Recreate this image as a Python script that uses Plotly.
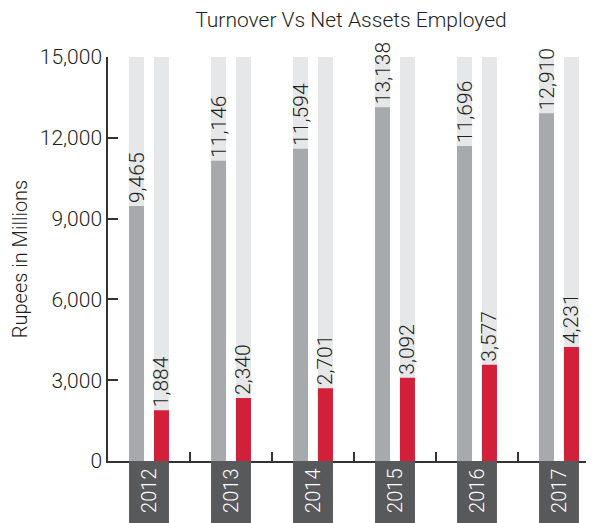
import plotly.graph_objects as go

years = ["2012", "2013", "2014", "2015", "2016", "2017"]
turnover = [9465, 11146, 11594, 13138, 11696, 12910]
net_assets = [1884, 2340, 2701, 3092, 3577, 4231]
axis_max = 15000

FONT = "Roboto"
GREY = "#a7a9ac"
RED = "#d2203b"
BG = "#e6e7e8"
DARK = "#58595b"
TXT = "#231f20"

bw = 0.183
off = 0.152

fig = go.Figure()
fig.add_trace(go.Bar(x=years, y=[axis_max] * len(years), width=bw, offset=-off - bw / 2,
                     marker=dict(color=BG, line=dict(width=0)), hoverinfo="skip", showlegend=False))
fig.add_trace(go.Bar(x=years, y=[axis_max] * len(years), width=bw, offset=off - bw / 2,
                     marker=dict(color=BG, line=dict(width=0)), hoverinfo="skip", showlegend=False))
fig.add_trace(go.Bar(x=years, y=turnover, width=bw, offset=-off - bw / 2, name="Turnover",
                     marker=dict(color=GREY, line=dict(width=0)),
                     text=[f"{v:,}" for v in turnover], textposition="outside", textangle=-90,
                     constraintext="none", cliponaxis=False,
                     textfont=dict(family=FONT, size=21, color=TXT, weight=300), showlegend=False))
fig.add_trace(go.Bar(x=years, y=net_assets, width=bw, offset=off - bw / 2, name="Net Assets Employed",
                     marker=dict(color=RED, line=dict(width=0)),
                     text=[f"{v:,}" for v in net_assets], textposition="outside", textangle=-90,
                     constraintext="none", cliponaxis=False,
                     textfont=dict(family=FONT, size=21, color=TXT, weight=300), showlegend=False))

shapes = []
annotations = []
for i, yr in enumerate(years):
    shapes.append(dict(type="rect", xref="x", yref="paper", x0=i - off - bw / 2, x1=i + off + bw / 2,
                       y0=0, y1=-0.25, fillcolor=DARK, line=dict(width=0), layer="above"))
    annotations.append(dict(x=i, y=-0.074, xref="x", yref="paper", text=yr, showarrow=False,
                            textangle=-90, xanchor="center", yanchor="middle",
                            font=dict(family=FONT, size=20, color="white", weight=300)))

fig.update_layout(
    width=594, height=523,
    margin=dict(l=100, r=8, t=49, b=70),
    paper_bgcolor="white", plot_bgcolor="white",
    barmode="overlay",
    title=dict(text="Turnover Vs Net Assets Employed", x=0.5, xanchor="center", y=0.977, yanchor="middle",
               xref="paper",
               font=dict(family=FONT, size=21, color=TXT, weight=300)),
    shapes=shapes, annotations=annotations,
    font=dict(family=FONT, color=TXT),
    xaxis=dict(type="category", range=[-0.5, 5.427], showline=True, linecolor="#333333", linewidth=1.5,
               ticks="inside", ticklen=9, tickcolor="#333333", tickwidth=1.5, tickson="boundaries",
               showticklabels=False, showgrid=False, zeroline=False, fixedrange=True),
    yaxis=dict(range=[0, axis_max], tickvals=[0, 3000, 6000, 9000, 12000, 15000], tickformat=",",
               showline=True, linecolor="#333333", linewidth=1.5, ticks="inside", ticklen=10,
               tickcolor="#333333", tickwidth=1.5, showgrid=False, zeroline=False,
               tickfont=dict(family=FONT, size=21, color=TXT, weight=300),
               title=dict(text="Rupees in Millions", standoff=8,
                          font=dict(family=FONT, size=20, color=TXT, weight=300))),
)

fig.write_html("out.html")
